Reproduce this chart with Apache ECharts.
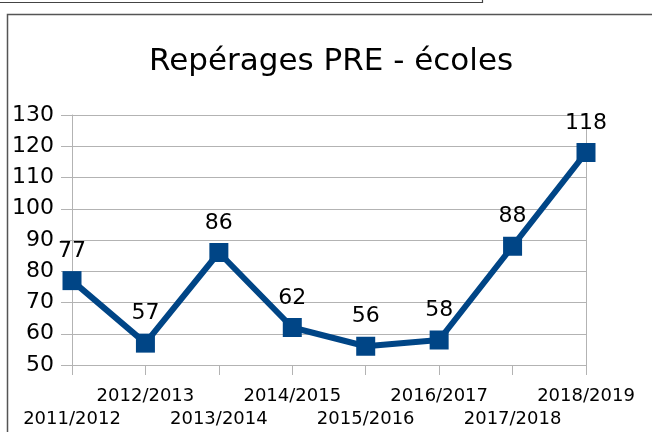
<!DOCTYPE html>
<html>
<head>
<meta charset="utf-8">
<script src="https://cdn.jsdelivr.net/npm/echarts@6/dist/echarts.min.js"></script>
<style>
html,body{margin:0;padding:0;background:#fff;}
#chart{width:652px;height:432px;}
</style>
</head>
<body>
<div id="chart"></div>
<script>
const titleText = 'Repérages PRE - écoles';
const categories = ['2011/2012','2012/2013','2013/2014','2014/2015','2015/2016','2016/2017','2017/2018','2018/2019'];
const values = [77, 57, 86, 62, 56, 58, 88, 118];
const yMin = 50, yMax = 130, yStep = 10;

const FONT = 'DejaVu Sans';
const chart = echarts.init(document.getElementById('chart'), null, {renderer: 'canvas'});
chart.setOption({
  animation: false,
  backgroundColor: '#fff',
  title: {
    text: titleText,
    left: 149,
    top: 46,
    padding: 0,
    textStyle: {fontFamily: FONT, fontSize: 31, fontWeight: 'normal', color: '#000'}
  },
  graphic: [
    {type: 'polyline', silent: true, shape: {points: [[0, 2.5], [482.5, 2.5], [482.5, 0]]},
     style: {stroke: '#444', lineWidth: 1.2, fill: null}},
    {type: 'polyline', silent: true, shape: {points: [[7.5, 432], [7.5, 14.5], [652, 14.5]]},
     style: {stroke: '#555', lineWidth: 1.5, fill: null}}
  ],
  grid: {left: 72, right: 66, top: 115, bottom: 67},
  xAxis: {
    type: 'category',
    data: categories,
    boundaryGap: false,
    axisLine: {show: true, lineStyle: {color: '#b3b3b3', width: 1}},
    axisTick: {show: true, length: 10, inside: false, lineStyle: {color: '#b3b3b3'}},
    splitLine: {show: true, interval: function (i) { return i === categories.length - 1; },
                lineStyle: {color: '#b3b3b3', width: 1}},
    axisLabel: {
      interval: 0,
      margin: 20,
      fontFamily: FONT,
      fontSize: 18,
      lineHeight: 23,
      color: '#000',
      formatter: function (v, i) { return i % 2 === 0 ? '\n' + v : v; }
    }
  },
  yAxis: {
    type: 'value',
    min: yMin,
    max: yMax,
    interval: yStep,
    axisLine: {show: true, lineStyle: {color: '#b3b3b3', width: 1}},
    axisTick: {show: true, length: 11, inside: false, lineStyle: {color: '#b3b3b3'}},
    splitLine: {show: true, lineStyle: {color: '#b3b3b3', width: 1}},
    axisLabel: {margin: 18, fontFamily: FONT, fontSize: 22, color: '#000'}
  },
  series: [{
    type: 'line',
    data: values,
    symbol: 'rect',
    symbolSize: 19,
    showAllSymbol: true,
    lineStyle: {color: '#004586', width: 6},
    itemStyle: {color: '#004586'},
    label: {show: true, position: 'top', distance: 9, fontFamily: FONT, fontSize: 22, color: '#000'}
  }]
});
</script>
</body>
</html>
